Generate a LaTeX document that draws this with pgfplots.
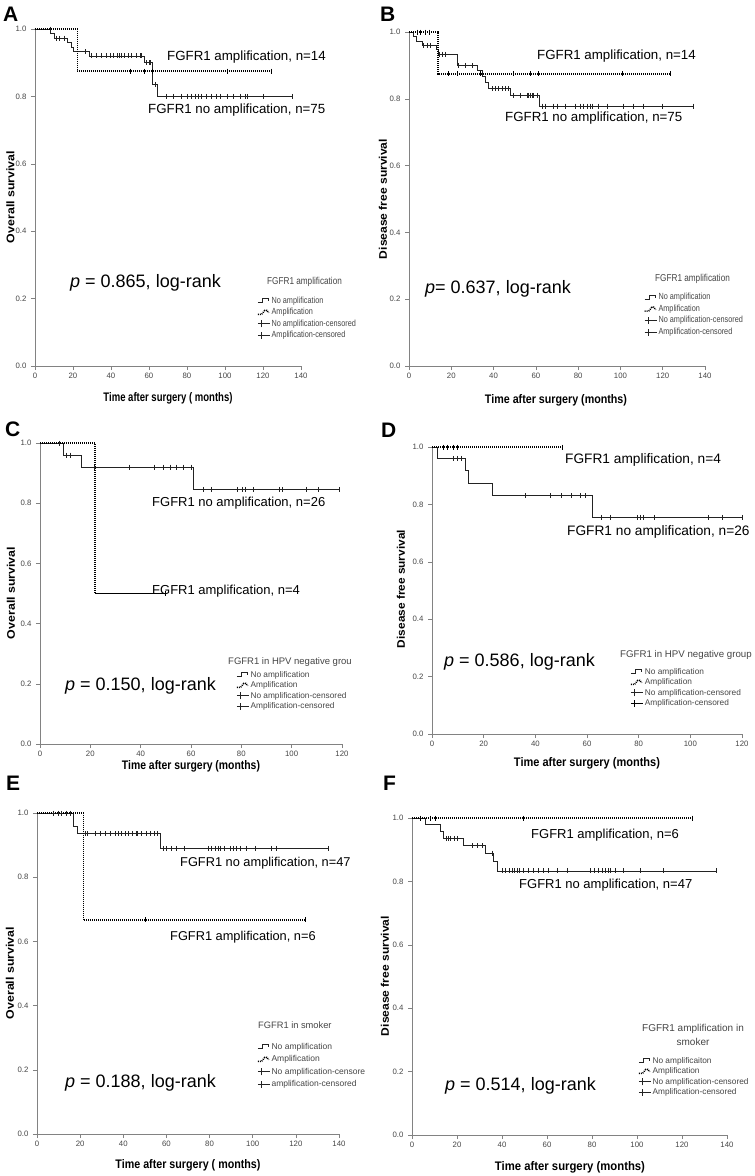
\documentclass[border=0pt]{standalone}
\usepackage{pgfplots}
\pgfplotsset{compat=1.18}
\usepackage{fontspec}
\setmainfont{Liberation Sans}

\definecolor{axgray}{RGB}{130,130,130}
\definecolor{txtgray}{RGB}{70,70,70}
\definecolor{kmcol}{RGB}{35,35,35}

\pgfplotsset{
  km/.style={
    scale only axis, clip=false,
    axis x line=bottom, axis y line=left,
    axis line style={axgray, line width=0.7pt, -},
    tick style={axgray, line width=0.6pt},
    tick align=outside, major tick length=4pt,
    xmin=0, ymin=0, ymax=1,
    ytick={0,0.2,0.4,0.6,0.8,1},
    /pgf/number format/assume math mode=true,
    yticklabel style={/pgf/number format/fixed, /pgf/number format/fixed zerofill, /pgf/number format/precision=1, xshift=-1pt},
    ticklabel style={font=\fontsize{7.8}{8}\selectfont, text=txtgray},
    legend style={draw=none, fill=none, anchor=north west, inner sep=0pt, outer sep=0pt,
       nodes={inner sep=0.5pt, text height=6.5pt, text depth=2pt}, text=txtgray, column sep=1pt},
    legend cell align=left,
  },
  nostep/.style={legend image code/.code={\draw[kmcol, line width=0.6pt] (0pt,-2pt) -- (5pt,-2pt) -- (5pt,2pt) -- (11pt,2pt) -- (11pt,0pt);}},
  ampstep/.style={legend image code/.code={\draw[black, line width=1.5pt, dash pattern=on 1pt off 1pt] (0pt,-2pt) -- (4pt,-2pt) -- (7pt,2pt) -- (9pt,2pt) -- (11pt,-0.5pt);}},
  censA/.style={legend image code/.code={\draw[kmcol, line width=0.6pt] (0pt,0pt) -- (12pt,0pt) (4pt,-3.5pt) -- (4pt,3.5pt);}},
  censB/.style={legend image code/.code={\draw[black, line width=1.4pt] (0pt,0pt) -- (12pt,0pt) (4pt,-3.5pt) -- (4pt,3.5pt);}},
  noamp/.style={const plot, kmcol, line width=0.7pt, forget plot},
  amp/.style={const plot, black, line width=1.6pt, dash pattern=on 1.1pt off 0.9pt, forget plot},
  cens/.style={only marks, mark=|, mark size=2.5pt, mark options={line width=0.6pt, kmcol}, forget plot},
  censamp/.style={only marks, mark=|, mark size=2.5pt, mark options={line width=0.8pt, black, solid}, forget plot},
}

\newcommand{\nl}[1]{\scalebox{0.82}[1]{#1}}

\begin{document}
\begin{tikzpicture}[x=1pt, y=-1pt]
\fill[white] (0,0) rectangle (755,1176);
\path[use as bounding box] (0,0) rectangle (755,1176);

% ---------------- A ----------------
\begin{axis}[km, at={(35pt,-366pt)}, anchor=south west, width=266pt, height=337pt,
  xmax=140, xtick={0,20,...,140},
  legend style={at={(0.8346,0.2077)}, font=\fontsize{8.9}{9}\selectfont, row sep=2pt}]
\addplot[noamp] coordinates {(0,1) (8,0.987) (10,0.973) (17,0.96) (19,0.947) (20,0.933) (28.6,0.92) (57.4,0.90) (61.9,0.836) (64.4,0.80) (135.6,0.80)};
\addplot[cens] coordinates {(7.9,1) (11,0.973) (12.8,0.973) (15.4,0.973) (26.7,0.933) (29.8,0.92) (32.5,0.92) (35.1,0.92) (37.4,0.92) (39.5,0.92) (41.2,0.92) (43.3,0.92) (44.4,0.92) (45.6,0.92) (47,0.92) (49.1,0.92) (50.9,0.92) (53.5,0.92) (55.3,0.92) (56.1,0.92) (58.8,0.90) (59.9,0.90) (60.9,0.90) (63.2,0.836) (68.9,0.8) (72.8,0.8) (77.2,0.8) (80.2,0.8) (82.5,0.8) (84.2,0.8) (86,0.8) (87.7,0.8) (90.4,0.8) (93,0.8) (95.6,0.8) (97.4,0.8) (101.4,0.8) (104.4,0.8) (107.9,0.8) (110.5,0.8) (111.8,0.8) (120.2,0.8) (135.6,0.8)};
\addplot[amp] coordinates {(0,1) (22.3,0.875) (124.6,0.875)};
\addplot[censamp] coordinates {(50,0.875) (57.4,0.875) (61.7,0.875) (101.4,0.875) (124.6,0.875)};
\addlegendimage{nostep}\addlegendentry{\nl{No amplification}}
\addlegendimage{ampstep}\addlegendentry{\nl{Amplification}}
\addlegendimage{censA}\addlegendentry{\nl{No amplification-censored}}
\addlegendimage{censA}\addlegendentry{\nl{Amplification-censored}}
\end{axis}

% ---------------- B ----------------
\begin{axis}[km, at={(409pt,-366pt)}, anchor=south west, width=296pt, height=334pt,
  xmax=140, xtick={0,20,...,140},
  legend style={at={(0.7939,0.2186)}, font=\fontsize{8.9}{9}\selectfont, row sep=2pt}]
\addplot[noamp] coordinates {(0,1) (1.9,0.987) (3.5,0.973) (6.1,0.96) (12.9,0.947) (14,0.933) (22.7,0.90) (32.2,0.885) (34.5,0.866) (36.3,0.85) (37.7,0.83) (47.9,0.81) (61.8,0.778) (134.6,0.778)};
\addplot[cens] coordinates {(6.9,0.96) (8.5,0.96) (10.1,0.96) (14.5,0.933) (15.6,0.933) (17.2,0.933) (23.5,0.90) (26.7,0.90) (29.8,0.90) (39.3,0.83) (40.9,0.83) (42.4,0.83) (44,0.83) (45.6,0.83) (47.1,0.83) (49.5,0.81) (52.7,0.81) (55.8,0.81) (56.6,0.81) (57.4,0.81) (58.2,0.81) (59,0.81) (60.6,0.81) (62.9,0.778) (64.5,0.778) (68.4,0.778) (70,0.778) (74,0.778) (78.7,0.778) (81,0.778) (82.6,0.778) (84.2,0.778) (85.8,0.778) (86.6,0.778) (89.7,0.778) (93.7,0.778) (101.5,0.778) (106.3,0.778) (111,0.778) (119.7,0.778) (134.6,0.778)};
\addplot[amp] coordinates {(0,1) (13.7,0.875) (123.6,0.875)};
\addplot[censamp] coordinates {(3.8,1) (5.4,1) (7.7,1) (9.8,1) (18.8,0.875) (22.7,0.875) (33.8,0.875) (49.5,0.875) (57.4,0.875) (61.3,0.875) (100.7,0.875) (123.6,0.875)};
\addlegendimage{nostep}\addlegendentry{\nl{No amplification}}
\addlegendimage{ampstep}\addlegendentry{\nl{Amplification}}
\addlegendimage{censA}\addlegendentry{\nl{No amplification-censored}}
\addlegendimage{censA}\addlegendentry{\nl{Amplification-censored}}
\end{axis}

% ---------------- C ----------------
\begin{axis}[km, at={(40pt,-744pt)}, anchor=south west, width=302pt, height=301pt,
  xmax=120, xtick={0,20,...,120},
  legend style={at={(0.649,0.2458)}, font=\fontsize{8.3}{9}\selectfont, row sep=1pt}]
\addplot[noamp] coordinates {(0,1) (9.3,0.96) (16.6,0.92) (61,0.846) (119,0.846)};
\addplot[cens] coordinates {(7.7,1) (10.3,0.96) (11.9,0.96) (21.6,0.92) (35.5,0.92) (45.3,0.92) (49,0.92) (51.7,0.92) (54.3,0.92) (57,0.92) (60,0.92) (64.9,0.846) (68,0.846) (78.2,0.846) (80.2,0.846) (81.5,0.846) (84.8,0.846) (95.2,0.846) (96.1,0.846) (105.8,0.846) (110.7,0.846) (119,0.846)};
\addplot[amp] coordinates {(0,1) (21.9,0.5) (49.7,0.5)};
\addplot[censamp] coordinates {(49.7,0.5)};
\addlegendimage{nostep}\addlegendentry{No amplification}
\addlegendimage{ampstep}\addlegendentry{Amplification}
\addlegendimage{censA}\addlegendentry{No amplification-censored}
\addlegendimage{censA}\addlegendentry{Amplification-censored}
\end{axis}

% ---------------- D ----------------
\begin{axis}[km, at={(432pt,-734pt)}, anchor=south west, width=310pt, height=287pt,
  xmax=120, xtick={0,20,...,120},
  legend style={at={(0.6387,0.2334)}, font=\fontsize{8.3}{9}\selectfont, row sep=1pt}]
\addplot[noamp] coordinates {(0,1) (1.9,0.96) (12.9,0.92) (14.2,0.875) (23.2,0.83) (61.9,0.755) (120,0.755)};
\addplot[cens] coordinates {(8.1,0.96) (9.7,0.96) (11.2,0.96) (36.1,0.83) (45.8,0.83) (50.1,0.83) (53.8,0.83) (57.4,0.83) (59.3,0.83) (65.4,0.755) (69,0.755) (79.4,0.755) (80.6,0.755) (81.9,0.755) (86.1,0.755) (107.1,0.755) (112.3,0.755) (120,0.755)};
\addplot[amp] coordinates {(0,1) (50.3,1)};
\addplot[censamp] coordinates {(4.5,1) (5.8,1) (8.4,1) (9.7,1) (50.3,1)};
\addlegendimage{nostep}\addlegendentry{No amplification}
\addlegendimage{ampstep}\addlegendentry{Amplification}
\addlegendimage{censA}\addlegendentry{No amplification-censored}
\addlegendimage{censB}\addlegendentry{Amplification-censored}
\end{axis}

% ---------------- E ----------------
\begin{axis}[km, at={(37pt,-1134pt)}, anchor=south west, width=302pt, height=321pt,
  xmax=140, xtick={0,20,...,140},
  legend style={at={(0.7285,0.2866)}, font=\fontsize{8.5}{9}\selectfont, row sep=3pt}]
\addplot[noamp] coordinates {(0,1) (16.8,0.957) (18.7,0.936) (57,0.89) (135.1,0.89)};
\addplot[cens] coordinates {(7.6,1) (9.9,1) (11.4,1) (13.8,1) (15.3,1) (22.3,0.936) (23.3,0.936) (26.9,0.936) (29.2,0.936) (31.5,0.936) (33.8,0.936) (36.2,0.936) (37.7,0.936) (39.3,0.936) (40.8,0.936) (42.3,0.936) (44.4,0.936) (45.9,0.936) (46.5,0.936) (48.5,0.936) (50.9,0.936) (52.7,0.936) (54.2,0.936) (55.8,0.936) (58.6,0.89) (60.1,0.89) (62.4,0.89) (64.4,0.89) (68.1,0.89) (79.4,0.89) (81,0.89) (82.5,0.89) (84.1,0.89) (85.1,0.89) (86.7,0.89) (89.5,0.89) (91,0.89) (92.6,0.89) (94.1,0.89) (97.2,0.89) (101.1,0.89) (108.8,0.89) (111.1,0.89) (135.1,0.89)};
\addplot[amp] coordinates {(0,1) (21.5,0.667) (124.2,0.667)};
\addplot[censamp] coordinates {(50.1,0.667) (124.2,0.667)};
\addlegendimage{nostep}\addlegendentry{No amplification}
\addlegendimage{ampstep}\addlegendentry{Amplification}
\addlegendimage{censA}\addlegendentry{No amplification-censore}
\addlegendimage{censA}\addlegendentry{amplification-censored}
\end{axis}

% ---------------- F ----------------
\begin{axis}[km, at={(412pt,-1135pt)}, anchor=south west, width=315pt, height=317pt,
  xmax=140, xtick={0,20,...,140},
  legend style={at={(0.7175,0.2492)}, font=\fontsize{8.3}{9}\selectfont, row sep=1pt}]
\addplot[noamp] coordinates {(0,1) (5.9,0.979) (12.6,0.957) (14.1,0.936) (22.7,0.913) (32.6,0.889) (36.3,0.862) (37.8,0.833) (135.2,0.833)};
\addplot[cens] coordinates {(15.1,0.936) (16,0.936) (17,0.936) (18.8,0.936) (20,0.936) (26.7,0.913) (28.9,0.913) (31.1,0.913) (35.6,0.889) (40,0.833) (41.5,0.833) (43.4,0.833) (44.4,0.833) (45.5,0.833) (46.7,0.833) (47.9,0.833) (49.6,0.833) (51.9,0.833) (54.1,0.833) (56.3,0.833) (58.5,0.833) (60.7,0.833) (64.4,0.833) (68.9,0.833) (79.3,0.833) (81,0.833) (83,0.833) (84.4,0.833) (85.9,0.833) (87.1,0.833) (88.1,0.833) (90.4,0.833) (94.1,0.833) (101.5,0.833) (111.9,0.833) (135.2,0.833)};
\addplot[amp] coordinates {(0,1) (124.4,1)};
\addplot[censamp] coordinates {(3.7,1) (8.1,1) (10.4,1) (49.6,1) (124.4,1)};
\addlegendimage{nostep}\addlegendentry{No amplificaiton}
\addlegendimage{ampstep}\addlegendentry{Amplification}
\addlegendimage{censA}\addlegendentry{No amplification-censored}
\addlegendimage{censA}\addlegendentry{Amplification-censored}
\end{axis}

% ---------- panel letters ----------
\tikzset{letter/.style={anchor=north west, inner sep=0pt, font=\bfseries\fontsize{21}{21}\selectfont}}
\node[letter] at (3,7) {A};
\node[letter] at (380,7) {B};
\node[letter] at (5,422) {C};
\node[letter] at (381,423) {D};
\node[letter] at (6,776) {E};
\node[letter] at (383,776) {F};

% ---------- annotations ----------
\tikzset{ann/.style={anchor=west, inner sep=0pt, font=\fontsize{#1}{#1}\selectfont}}
\node[ann=13.3] at (167,57) {FGFR1 amplification, n=14};
\node[ann=13.3] at (148,110) {FGFR1 no amplification, n=75};
\node[ann=13.3] at (537,56) {FGFR1 amplification, n=14};
\node[ann=13.3] at (505,118) {FGFR1 no amplification, n=75};
\node[ann=13.0] at (152,503) {FGFR1 no amplification, n=26};
\node[ann=13.0] at (152,591) {FGFR1 amplification, n=4};
\node[ann=13.7] at (565,460) {FGFR1 amplification, n=4};
\node[ann=13.7] at (567,532) {FGFR1 no amplification, n=26};
\node[ann=12.8] at (180,863) {FGFR1 no amplification, n=47};
\node[ann=12.8] at (170,937) {FGFR1 amplification, n=6};
\node[ann=13.0] at (531,835) {FGFR1 amplification, n=6};
\node[ann=13.0] at (519,885) {FGFR1 no amplification, n=47};

\node[ann=18] at (70,283) {\textit{p} = 0.865, log-rank};
\node[ann=18] at (425,289) {\textit{p}= 0.637, log-rank};
\node[ann=18] at (65,686) {\textit{p} = 0.150, log-rank};
\node[ann=18] at (444,662) {\textit{p} = 0.586, log-rank};
\node[ann=18] at (65,1083) {\textit{p} = 0.188, log-rank};
\node[ann=18] at (445,1086) {\textit{p} = 0.514, log-rank};

% ---------- legend titles ----------
\tikzset{lt/.style={anchor=west, inner sep=0pt, text=txtgray}}
\node[lt] at (267,282) {\nl{\fontsize{10}{10}\selectfont FGFR1 amplification}};
\node[lt] at (655,279) {\nl{\fontsize{10}{10}\selectfont FGFR1 amplification}};
\node[lt, font=\fontsize{9.5}{10}\selectfont] at (228,662) {FGFR1 in HPV negative grou};
\node[lt, font=\fontsize{9.7}{10}\selectfont] at (620,655) {FGFR1 in HPV negative group};
\node[lt, font=\fontsize{9.3}{10}\selectfont] at (258,1025) {FGFR1 in smoker};
\node[inner sep=0pt, text=txtgray, align=center, font=\fontsize{10}{14}\selectfont] at (693,1035) {FGFR1 amplification in\\smoker};

% ---------- axis titles ----------
\tikzset{xl/.style={inner sep=0pt}}
\node[xl] at (168,398) {\resizebox{129pt}{9pt}{\bfseries Time after surgery ( months)}};
\node[xl] at (556,400) {\resizebox{142pt}{9pt}{\bfseries Time after surgery (months)}};
\node[xl] at (191,766) {\resizebox{138pt}{9pt}{\bfseries Time after surgery (months)}};
\node[xl] at (587,763) {\resizebox{146pt}{9pt}{\bfseries Time after surgery (months)}};
\node[xl] at (188,1165) {\resizebox{145pt}{9pt}{\bfseries Time after surgery ( months)}};
\node[xl] at (570,1167) {\resizebox{150pt}{9pt}{\bfseries Time after surgery (months)}};

\node[xl, rotate=90] at (10.5,197) {\resizebox{92pt}{8pt}{\bfseries Overall survival}};
\node[xl, rotate=90] at (383,199) {\resizebox{120pt}{8pt}{\bfseries Disease free survival}};
\node[xl, rotate=90] at (11,593) {\resizebox{92pt}{8pt}{\bfseries Overall survival}};
\node[xl, rotate=90] at (401,589) {\resizebox{118pt}{8pt}{\bfseries Disease free survival}};
\node[xl, rotate=90] at (10,973) {\resizebox{92pt}{8pt}{\bfseries Overall survival}};
\node[xl, rotate=90] at (385,976) {\resizebox{120pt}{8pt}{\bfseries Disease free survival}};
\end{tikzpicture}
\end{document}
